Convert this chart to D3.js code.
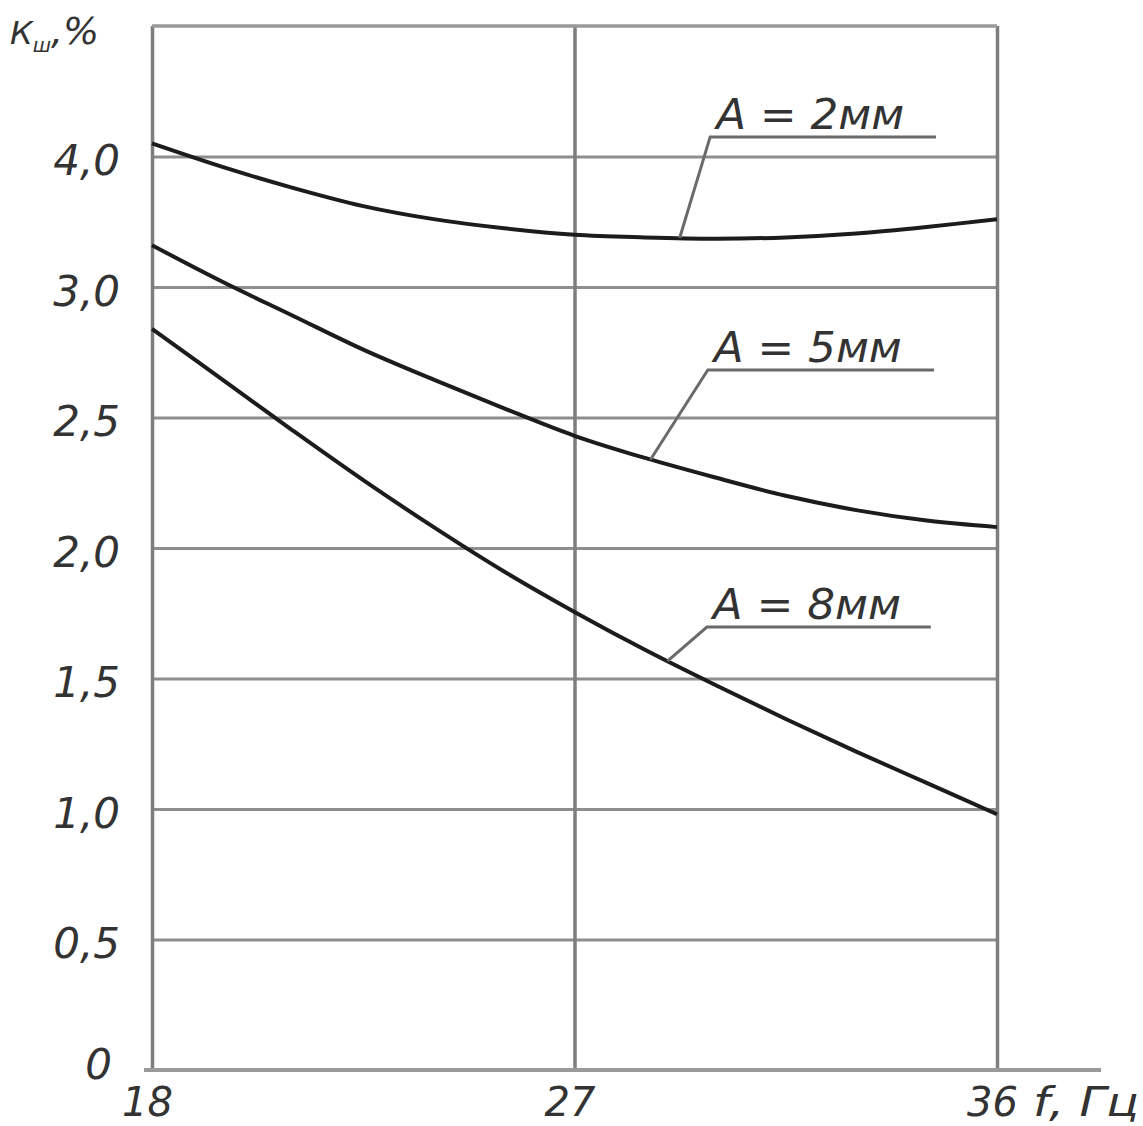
<!DOCTYPE html>
<html>
<head>
<meta charset="utf-8">
<script src="https://cdn.jsdelivr.net/npm/d3@7"></script>
<style>
  html, body { margin: 0; padding: 0; background: #fff; }
  svg { display: block; }
  text { font-family: "DejaVu Sans", sans-serif; font-style: italic; fill: #333; }
</style>
</head>
<body>
<svg id="chart" width="1143" height="1126"></svg>
<script>
// ---- data ----
const freq = [18, 19.5, 21, 22.5, 24, 25.5, 27, 28.5, 30, 31.5, 33, 34.5, 36];
const seriesA2 = [3.55, 3.46, 3.38, 3.31, 3.26, 3.225, 3.20, 3.19, 3.185, 3.19, 3.205, 3.23, 3.26];
const seriesA5 = [3.16, 3.02, 2.89, 2.76, 2.645, 2.535, 2.43, 2.345, 2.27, 2.20, 2.145, 2.105, 2.08];
const seriesA8 = [2.84, 2.645, 2.45, 2.26, 2.08, 1.91, 1.755, 1.61, 1.475, 1.345, 1.22, 1.10, 0.98];
const seriesNames = ["A = 2мм", "A = 5мм", "A = 8мм"];
const xTickValues = [18, 27, 36];
const xTickLabels = ["18", "27", "36"];
const yTickValues = [0, 0.5, 1, 1.5, 2, 2.5, 3, 3.5];
const yTickLabels = ["0", "0,5", "1,0", "1,5", "2,0", "2,5", "3,0", "4,0"];
const xTitle = "f, Гц";
// label leader lines: f on curve, knee (f, value), end f
const leaderCurveF = [29.24, 28.62, 28.98];
const leaderKneeF = [29.89, 29.84, 29.82];
const leaderKneeV = [3.575, 2.682, 1.697];
const leaderEndF = [34.7, 34.66, 34.59];

// ---- layout ----
const svg = d3.select("#chart");
const mLeft = 152, mRight = 997, mTop = 26, mBottom = 1070;
const x = d3.scaleLinear().domain([18, 36]).range([mLeft, mRight]);
const y = d3.scaleLinear().domain([0, 4]).range([mBottom, mTop]);

const gridColor = "#8e8e8e";

// horizontal grid lines
svg.append("g")
  .attr("transform", `translate(${mLeft},0)`)
  .call(d3.axisLeft(y).tickValues(yTickValues.slice(1)).tickSize(-(mRight - mLeft)).tickFormat(""))
  .call(g => g.select(".domain").remove())
  .call(g => g.selectAll("line").attr("stroke", gridColor).attr("stroke-width", 3));

// vertical grid lines
svg.append("g")
  .attr("transform", `translate(0,${mTop})`)
  .call(d3.axisTop(x).tickValues(xTickValues).tickSize(-(mBottom - mTop)).tickFormat(""))
  .call(g => g.select(".domain").remove())
  .call(g => g.selectAll("line").attr("stroke", "#7e7e7e").attr("stroke-width", 3.5));

// frame top
svg.append("line").attr("x1", x(18)).attr("x2", x(36)).attr("y1", y(4)).attr("y2", y(4))
  .attr("stroke", "#9a9a9a").attr("stroke-width", 3.5);
// bottom axis line (extends right)
svg.append("line").attr("x1", x(18) - 8).attr("x2", x(36) + 104).attr("y1", y(0)).attr("y2", y(0))
  .attr("stroke", "#999").attr("stroke-width", 4);

// y tick labels
svg.append("g")
  .attr("transform", `translate(${mLeft},0)`)
  .call(d3.axisLeft(y).tickValues(yTickValues).tickSize(0).tickPadding(32)
    .tickFormat((d, i) => yTickLabels[i]))
  .call(g => g.select(".domain").remove())
  .call(g => g.selectAll("text")
    .attr("font-family", "DejaVu Sans").attr("font-style", "italic")
    .attr("font-size", 42).attr("fill", "#3a3a3a")
    .attr("dy", d => d === 0 ? 8 : 18)
    .attr("dx", d => d === 0 ? -8 : 0));

// x tick labels
svg.append("g")
  .attr("transform", `translate(0,${mBottom})`)
  .call(d3.axisBottom(x).tickValues(xTickValues).tickSize(0).tickPadding(0)
    .tickFormat((d, i) => xTickLabels[i]))
  .call(g => g.select(".domain").remove())
  .call(g => g.selectAll("text")
    .attr("font-family", "DejaVu Sans").attr("font-style", "italic")
    .attr("font-size", 40).attr("fill", "#3a3a3a")
    .attr("dx", -5).attr("y", 46).attr("dy", 0));

svg.append("text").attr("x", 1033).attr("y", mBottom + 46)
  .attr("font-size", 40).attr("textLength", 106).attr("lengthAdjust", "spacingAndGlyphs")
  .attr("fill", "#3a3a3a").text(xTitle);

// y axis title  К_ш, %
const yt = svg.append("text").attr("x", 10).attr("y", 44).attr("fill", "#3a3a3a");
yt.append("tspan").attr("font-size", 32).text("К");
yt.append("tspan").attr("font-size", 20).attr("dy", 8).text("ш");
yt.append("tspan").attr("font-size", 38).attr("dy", -8).text(",%");

// curves
const allSeries = [seriesA2, seriesA5, seriesA8];
const line = d3.line().x(d => x(d[0])).y(d => y(d[1])).curve(d3.curveCatmullRom.alpha(0.5));
allSeries.forEach(s => {
  svg.append("path")
    .datum(freq.map((f, i) => [f, s[i]]))
    .attr("d", line)
    .attr("fill", "none")
    .attr("stroke", "#1c1c1c")
    .attr("stroke-width", 4);
});

// leaders + labels
function valueAt(s, f) {
  const i = Math.min(freq.length - 2, Math.max(0, d3.bisectRight(freq, f) - 1));
  const t = (f - freq[i]) / (freq[i + 1] - freq[i]);
  return s[i] + t * (s[i + 1] - s[i]);
}
allSeries.forEach((s, k) => {
  const cf = leaderCurveF[k];
  const pts = [
    [x(cf), y(valueAt(s, cf))],
    [x(leaderKneeF[k]), y(leaderKneeV[k])],
    [x(leaderEndF[k]), y(leaderKneeV[k])]
  ];
  svg.append("path")
    .attr("d", d3.line()(pts))
    .attr("fill", "none").attr("stroke", "#6a6a6a").attr("stroke-width", 3);
  svg.append("text")
    .attr("x", x(leaderKneeF[k]) + 6)
    .attr("y", y(leaderKneeV[k]) - 8)
    .attr("font-size", 43)
    .attr("textLength", 188).attr("lengthAdjust", "spacingAndGlyphs")
    .attr("fill", "#333")
    .text(seriesNames[k]);
});
</script>
</body>
</html>
